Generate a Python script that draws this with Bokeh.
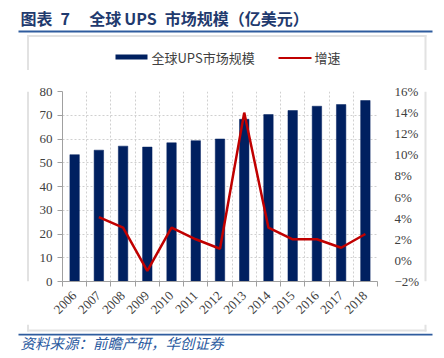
import math
from bokeh.plotting import figure
from bokeh.layouts import column, row
from bokeh.models import Range1d, LinearAxis, FixedTicker, Grid
from bokeh.core.properties import value
from bokeh.embed import file_html
from bokeh.resources import INLINE

# ---- data ----
years = ["2006", "2007", "2008", "2009", "2010", "2011", "2012",
         "2013", "2014", "2015", "2016", "2017", "2018"]
market = [53.4, 55.3, 57.0, 56.6, 58.4, 59.3, 60.0, 68.3, 70.3, 72.0, 73.8, 74.5, 76.2]
growth = [float("nan"), 4.1, 3.1, -1.0, 3.1, 2.0, 1.1, 14.0, 3.1, 2.0, 2.0, 1.2, 2.5]
left_ticks = [0, 10, 20, 30, 40, 50, 60, 70, 80]
right_ticks = [-2, 0, 2, 4, 6, 8, 10, 12, 14, 16]

title_text = "图表\u20027\u3000\u2009全球\u2009UPS\u2002市场规模（亿美元）"
legend_bar = "全球UPS市场规模"
legend_line = "增速"
source_text = "资料来源：前瞻产研，华创证券"

n = len(years)
idx = list(range(n))
bounds = [i - 0.5 for i in range(n + 1)]

AX_FONT = "Liberation Serif"
CJK = "Noto Sans CJK SC"
BAR_C = "#002060"
LINE_C = "#C00000"
BLUE = "#2f5c9e"
GRID_C = "#d0d0d0"
AXIS_C = "#a0a0a0"
TXT_C = "#404040"
FRAME_C = "#e2e2e2"

W, H = 444, 358
TOP_H = 70          # top strip: title, rule, legend
MID_Y1 = 324        # chart strip ends here
LEFT_W, RIGHT_X = 30, 422


def deco(x0, y0, w, h):
    """A figure whose frame fills the whole area, in page-pixel coordinates."""
    f = figure(width=w, height=h, output_backend="svg", toolbar_location=None,
               x_range=Range1d(x0, x0 + w), y_range=Range1d(y0 + h, y0),
               min_border=0, x_axis_type=None, y_axis_type=None)
    f.outline_line_color = None
    f.background_fill_color = "white"
    f.border_fill_color = "white"
    return f


def box(f, l, r, t, b, color):
    f.quad(left=l, right=r, top=t, bottom=b, fill_color=color, line_color=None)


# ---- top strip ----
top = deco(0, 0, W, TOP_H)
top.text(x=[20], y=[17], text=[title_text], text_font=value(CJK),
         text_font_size=value("16px"), text_font_style="bold", text_color="#1f3a6e",
         text_baseline="middle", text_align="left")
box(top, 18, 432, 30, 32, BLUE)
box(top, 26.5, 426, 34.5, 36.5, FRAME_C)
box(top, 26.5, 28.5, 34.5, TOP_H, FRAME_C)
box(top, 424, 426, 34.5, TOP_H, FRAME_C)
# legend
box(top, 115, 147, 54, 59, BAR_C)
box(top, 278, 311, 56.5, 58.5, LINE_C)
top.text(x=[151, 314], y=[56.5, 56.5], text=[legend_bar, legend_line], text_font=value(CJK),
         text_font_size=value("13px"), text_color=TXT_C,
         text_baseline="middle", text_align="left")

# ---- chart ----
p = figure(width=RIGHT_X - LEFT_W, height=MID_Y1 - TOP_H, output_backend="svg",
           toolbar_location=None,
           x_range=Range1d(-0.5, n - 0.5), y_range=Range1d(left_ticks[0], left_ticks[-1]),
           min_border_left=62 - LEFT_W, min_border_right=RIGHT_X - 383,
           min_border_top=91 - TOP_H, min_border_bottom=MID_Y1 - 281,
           x_axis_type=None, y_axis_type=None)
p.outline_line_color = None
p.background_fill_color = "white"
p.border_fill_color = "white"
p.extra_y_ranges = {"pct": Range1d(right_ticks[0], right_ticks[-1])}

xaxis = LinearAxis(ticker=FixedTicker(ticks=idx, minor_ticks=bounds))
xaxis.major_label_overrides = {i: y for i, y in zip(idx, years)}
xaxis.major_label_orientation = math.pi / 4
xaxis.major_tick_out = 0
xaxis.major_tick_in = 0
xaxis.minor_tick_out = 5
xaxis.minor_tick_in = 0
xaxis.minor_tick_line_color = AXIS_C
xaxis.axis_line_color = AXIS_C
xaxis.major_label_text_font = AX_FONT
xaxis.major_label_text_font_size = "13px"
xaxis.major_label_text_color = TXT_C
xaxis.major_label_standoff = 7
p.add_layout(xaxis, "below")

yaxis = LinearAxis(ticker=FixedTicker(ticks=left_ticks, minor_ticks=[]))
yaxis.axis_line_color = AXIS_C
yaxis.major_tick_line_color = AXIS_C
yaxis.major_tick_out = 5
yaxis.major_tick_in = 0
yaxis.minor_tick_out = 0
yaxis.major_label_text_font = AX_FONT
yaxis.major_label_text_font_size = "13px"
yaxis.major_label_text_color = TXT_C
yaxis.major_label_standoff = 5
p.add_layout(yaxis, "left")

raxis = LinearAxis(y_range_name="pct", ticker=FixedTicker(ticks=right_ticks, minor_ticks=[]))
raxis.major_label_overrides = {t: (f"\u2212{abs(t)}%" if t < 0 else f"{t}%") for t in right_ticks}
raxis.axis_line_color = None
raxis.major_tick_line_color = None
raxis.minor_tick_line_color = None
raxis.major_label_text_font = AX_FONT
raxis.major_label_text_font_size = "13px"
raxis.major_label_text_color = TXT_C
raxis.major_label_standoff = 11
p.add_layout(raxis, "right")

p.add_layout(Grid(dimension=1, ticker=FixedTicker(ticks=left_ticks, minor_ticks=[]),
                  grid_line_color=GRID_C, grid_line_dash="2 2", grid_line_width=1))
p.add_layout(Grid(dimension=0, ticker=FixedTicker(ticks=bounds, minor_ticks=[]),
                  grid_line_color=GRID_C, grid_line_dash="2 2", grid_line_width=1))

p.vbar(x=idx, top=market, width=0.39, fill_color=BAR_C, line_color=BAR_C, line_width=0.5)
p.line(x=idx, y=growth, y_range_name="pct", line_color=LINE_C, line_width=2.5)

# side strips carrying the light frame edges
left = deco(0, TOP_H, LEFT_W, MID_Y1 - TOP_H)
box(left, 26.5, 28.5, TOP_H, MID_Y1, FRAME_C)
right = deco(RIGHT_X, TOP_H, W - RIGHT_X, MID_Y1 - TOP_H)
box(right, 424, 426, TOP_H, MID_Y1, FRAME_C)

# ---- bottom strip ----
bot = deco(0, MID_Y1, W, H - MID_Y1)
box(bot, 26.5, 28.5, MID_Y1, 331, FRAME_C)
box(bot, 424, 426, MID_Y1, 331, FRAME_C)
box(bot, 26.5, 426, 329, 331, FRAME_C)
box(bot, 18, 432, 333.3, 335, BLUE)
bot.text(x=[20], y=[341.5], text=[source_text], text_font=value(CJK),
         text_font_size=value("14.5px"), text_font_style="italic", text_color="#2a5aa0",
         text_baseline="middle", text_align="left")

layout = column(top, row(left, p, right, spacing=0), bot, spacing=0)
open("out.html", "w").write(file_html(layout, INLINE))
